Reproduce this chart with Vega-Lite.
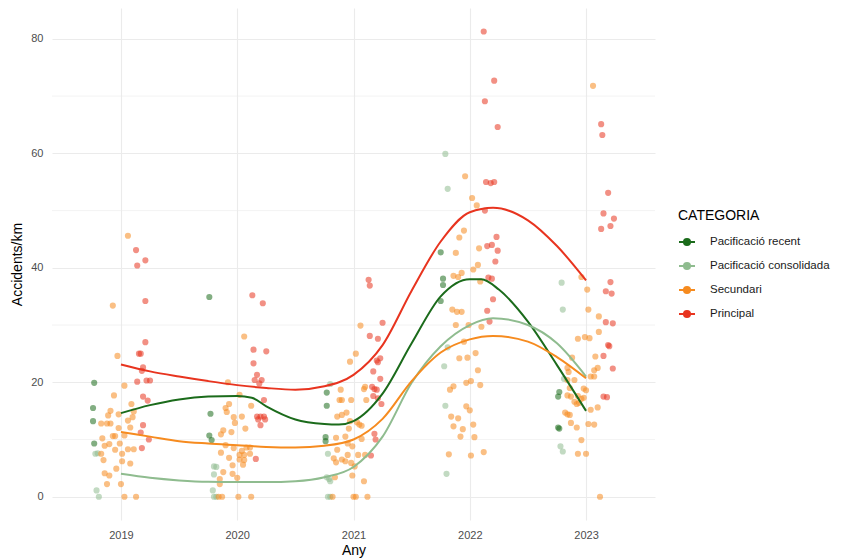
{
  "$schema": "https://vega.github.io/schema/vega-lite/v6.json",
  "width": 603,
  "height": 512,
  "autosize": {"type": "none"},
  "padding": {"left": 52, "top": 8, "right": 188, "bottom": 38},
  "background": "white",
  "config": {
    "view": {"stroke": null},
    "font": "Liberation Sans",
    "axis": {
      "domain": false,
      "ticks": false,
      "grid": true,
      "gridColor": "#ebebeb",
      "gridWidth": 1.1,
      "labelColor": "#4d4d4d",
      "labelFontSize": 11,
      "labelFont": "Liberation Sans",
      "titleColor": "#000000",
      "titleFontSize": 14,
      "titleFontWeight": "normal",
      "titleFont": "Liberation Sans"
    },
    "legend": {
      "orient": "none",
      "legendX": 626,
      "legendY": 201,
      "padding": 0,
      "titleFontSize": 14,
      "titleFontWeight": "normal",
      "titleColor": "#000000",
      "titleFont": "Liberation Sans",
      "titlePadding": 10,
      "labelFontSize": 11.5,
      "labelColor": "#1a1a1a",
      "labelFont": "Liberation Sans",
      "labelOffset": 14,
      "rowPadding": 7,
      "symbolType": "M-1,0L1,0M-0.38,0A0.38,0.38 0 1,1 0.38,0A0.38,0.38 0 1,1 -0.38,0Z",
      "symbolSize": 256,
      "symbolStrokeWidth": 2,
      "symbolOpacity": 1
    }
  },
  "datasets": {
    "minor": [{"v": 10}, {"v": 30}, {"v": 50}, {"v": 70}],
    "corbes": [
      {"Any": 2019, "valor": 14.6, "CATEGORIA": "Pacificació recent"},
      {"Any": 2019.25, "valor": 16.0, "CATEGORIA": "Pacificació recent"},
      {"Any": 2019.5, "valor": 17.0, "CATEGORIA": "Pacificació recent"},
      {"Any": 2019.75, "valor": 17.5, "CATEGORIA": "Pacificació recent"},
      {"Any": 2020, "valor": 17.6, "CATEGORIA": "Pacificació recent"},
      {"Any": 2020.125, "valor": 17.3, "CATEGORIA": "Pacificació recent"},
      {"Any": 2020.25, "valor": 15.8, "CATEGORIA": "Pacificació recent"},
      {"Any": 2020.5, "valor": 13.5, "CATEGORIA": "Pacificació recent"},
      {"Any": 2020.75, "valor": 12.7, "CATEGORIA": "Pacificació recent"},
      {"Any": 2020.875, "valor": 12.6, "CATEGORIA": "Pacificació recent"},
      {"Any": 2021, "valor": 13.2, "CATEGORIA": "Pacificació recent"},
      {"Any": 2021.25, "valor": 18.0, "CATEGORIA": "Pacificació recent"},
      {"Any": 2021.5, "valor": 26.8, "CATEGORIA": "Pacificació recent"},
      {"Any": 2021.75, "valor": 35.0, "CATEGORIA": "Pacificació recent"},
      {"Any": 2022, "valor": 38.0, "CATEGORIA": "Pacificació recent"},
      {"Any": 2022.1, "valor": 38.0, "CATEGORIA": "Pacificació recent"},
      {"Any": 2022.25, "valor": 36.2, "CATEGORIA": "Pacificació recent"},
      {"Any": 2022.5, "valor": 30.6, "CATEGORIA": "Pacificació recent"},
      {"Any": 2022.75, "valor": 23.0, "CATEGORIA": "Pacificació recent"},
      {"Any": 2023, "valor": 15.0, "CATEGORIA": "Pacificació recent"},

      {"Any": 2019, "valor": 4.0, "CATEGORIA": "Pacificació consolidada"},
      {"Any": 2019.25, "valor": 3.3, "CATEGORIA": "Pacificació consolidada"},
      {"Any": 2019.5, "valor": 2.85, "CATEGORIA": "Pacificació consolidada"},
      {"Any": 2019.75, "valor": 2.6, "CATEGORIA": "Pacificació consolidada"},
      {"Any": 2020, "valor": 2.55, "CATEGORIA": "Pacificació consolidada"},
      {"Any": 2020.25, "valor": 2.55, "CATEGORIA": "Pacificació consolidada"},
      {"Any": 2020.5, "valor": 2.7, "CATEGORIA": "Pacificació consolidada"},
      {"Any": 2020.75, "valor": 3.4, "CATEGORIA": "Pacificació consolidada"},
      {"Any": 2021, "valor": 5.2, "CATEGORIA": "Pacificació consolidada"},
      {"Any": 2021.25, "valor": 10.5, "CATEGORIA": "Pacificació consolidada"},
      {"Any": 2021.5, "valor": 19.9, "CATEGORIA": "Pacificació consolidada"},
      {"Any": 2021.75, "valor": 26.3, "CATEGORIA": "Pacificació consolidada"},
      {"Any": 2022, "valor": 30.0, "CATEGORIA": "Pacificació consolidada"},
      {"Any": 2022.2, "valor": 31.2, "CATEGORIA": "Pacificació consolidada"},
      {"Any": 2022.5, "valor": 30.0, "CATEGORIA": "Pacificació consolidada"},
      {"Any": 2022.75, "valor": 26.8, "CATEGORIA": "Pacificació consolidada"},
      {"Any": 2023, "valor": 21.0, "CATEGORIA": "Pacificació consolidada"},

      {"Any": 2019, "valor": 11.3, "CATEGORIA": "Secundari"},
      {"Any": 2019.25, "valor": 10.5, "CATEGORIA": "Secundari"},
      {"Any": 2019.5, "valor": 9.7, "CATEGORIA": "Secundari"},
      {"Any": 2019.75, "valor": 9.3, "CATEGORIA": "Secundari"},
      {"Any": 2020, "valor": 9.0, "CATEGORIA": "Secundari"},
      {"Any": 2020.25, "valor": 8.7, "CATEGORIA": "Secundari"},
      {"Any": 2020.5, "valor": 8.6, "CATEGORIA": "Secundari"},
      {"Any": 2020.75, "valor": 8.9, "CATEGORIA": "Secundari"},
      {"Any": 2021, "valor": 10.0, "CATEGORIA": "Secundari"},
      {"Any": 2021.25, "valor": 13.6, "CATEGORIA": "Secundari"},
      {"Any": 2021.5, "valor": 20.2, "CATEGORIA": "Secundari"},
      {"Any": 2021.75, "valor": 25.2, "CATEGORIA": "Secundari"},
      {"Any": 2022, "valor": 27.5, "CATEGORIA": "Secundari"},
      {"Any": 2022.2, "valor": 28.1, "CATEGORIA": "Secundari"},
      {"Any": 2022.5, "valor": 27.1, "CATEGORIA": "Secundari"},
      {"Any": 2022.75, "valor": 24.4, "CATEGORIA": "Secundari"},
      {"Any": 2023, "valor": 20.7, "CATEGORIA": "Secundari"},

      {"Any": 2019, "valor": 23.1, "CATEGORIA": "Principal"},
      {"Any": 2019.25, "valor": 21.9, "CATEGORIA": "Principal"},
      {"Any": 2019.5, "valor": 21.0, "CATEGORIA": "Principal"},
      {"Any": 2019.75, "valor": 20.2, "CATEGORIA": "Principal"},
      {"Any": 2020, "valor": 19.5, "CATEGORIA": "Principal"},
      {"Any": 2020.25, "valor": 19.0, "CATEGORIA": "Principal"},
      {"Any": 2020.5, "valor": 18.7, "CATEGORIA": "Principal"},
      {"Any": 2020.75, "valor": 19.3, "CATEGORIA": "Principal"},
      {"Any": 2021, "valor": 21.3, "CATEGORIA": "Principal"},
      {"Any": 2021.25, "valor": 26.5, "CATEGORIA": "Principal"},
      {"Any": 2021.5, "valor": 36.0, "CATEGORIA": "Principal"},
      {"Any": 2021.75, "valor": 44.6, "CATEGORIA": "Principal"},
      {"Any": 2022, "valor": 49.7, "CATEGORIA": "Principal"},
      {"Any": 2022.2, "valor": 50.5, "CATEGORIA": "Principal"},
      {"Any": 2022.5, "valor": 48.3, "CATEGORIA": "Principal"},
      {"Any": 2022.75, "valor": 43.8, "CATEGORIA": "Principal"},
      {"Any": 2023, "valor": 37.8, "CATEGORIA": "Principal"}
    ],
    "punts": [
      {"Any": 2018.77, "valor": 19.9, "CATEGORIA": "Pacificació recent"},
      {"Any": 2018.76, "valor": 15.5, "CATEGORIA": "Pacificació recent"},
      {"Any": 2018.76, "valor": 13.2, "CATEGORIA": "Pacificació recent"},
      {"Any": 2018.77, "valor": 9.3, "CATEGORIA": "Pacificació recent"},
      {"Any": 2018.78, "valor": 7.5, "CATEGORIA": "Pacificació consolidada"},
      {"Any": 2018.80, "valor": 7.6, "CATEGORIA": "Pacificació consolidada"},
      {"Any": 2018.79, "valor": 1.1, "CATEGORIA": "Pacificació consolidada"},
      {"Any": 2018.81, "valor": 0, "CATEGORIA": "Pacificació consolidada"},
      {"Any": 2019.06, "valor": 45.6, "CATEGORIA": "Secundari"},
      {"Any": 2018.93, "valor": 33.4, "CATEGORIA": "Secundari"},
      {"Any": 2018.97, "valor": 24.6, "CATEGORIA": "Secundari"},
      {"Any": 2019.03, "valor": 19.4, "CATEGORIA": "Secundari"},
      {"Any": 2018.94, "valor": 17.7, "CATEGORIA": "Secundari"},
      {"Any": 2019.09, "valor": 16.2, "CATEGORIA": "Secundari"},
      {"Any": 2018.91, "valor": 15.0, "CATEGORIA": "Secundari"},
      {"Any": 2018.89, "valor": 14.2, "CATEGORIA": "Secundari"},
      {"Any": 2018.98, "valor": 14.4, "CATEGORIA": "Secundari"},
      {"Any": 2019.11, "valor": 14.9, "CATEGORIA": "Secundari"},
      {"Any": 2019.10, "valor": 13.9, "CATEGORIA": "Secundari"},
      {"Any": 2018.83, "valor": 12.8, "CATEGORIA": "Secundari"},
      {"Any": 2018.88, "valor": 12.8, "CATEGORIA": "Secundari"},
      {"Any": 2018.91, "valor": 12.8, "CATEGORIA": "Secundari"},
      {"Any": 2019.06, "valor": 13.3, "CATEGORIA": "Secundari"},
      {"Any": 2018.98, "valor": 12.0, "CATEGORIA": "Secundari"},
      {"Any": 2019.08, "valor": 12.1, "CATEGORIA": "Secundari"},
      {"Any": 2018.84, "valor": 10.2, "CATEGORIA": "Secundari"},
      {"Any": 2018.93, "valor": 10.6, "CATEGORIA": "Secundari"},
      {"Any": 2018.95, "valor": 10.6, "CATEGORIA": "Secundari"},
      {"Any": 2019.03, "valor": 10.7, "CATEGORIA": "Secundari"},
      {"Any": 2018.90, "valor": 9.2, "CATEGORIA": "Secundari"},
      {"Any": 2018.86, "valor": 8.9, "CATEGORIA": "Secundari"},
      {"Any": 2018.99, "valor": 9.3, "CATEGORIA": "Secundari"},
      {"Any": 2019.06, "valor": 8.3, "CATEGORIA": "Secundari"},
      {"Any": 2019.11, "valor": 8.3, "CATEGORIA": "Secundari"},
      {"Any": 2018.95, "valor": 8.2, "CATEGORIA": "Secundari"},
      {"Any": 2019.01, "valor": 7.5, "CATEGORIA": "Secundari"},
      {"Any": 2018.83, "valor": 7.5, "CATEGORIA": "Secundari"},
      {"Any": 2018.85, "valor": 6.4, "CATEGORIA": "Secundari"},
      {"Any": 2019.08, "valor": 5.8, "CATEGORIA": "Secundari"},
      {"Any": 2019.01, "valor": 6.2, "CATEGORIA": "Secundari"},
      {"Any": 2018.96, "valor": 4.9, "CATEGORIA": "Secundari"},
      {"Any": 2018.86, "valor": 4.1, "CATEGORIA": "Secundari"},
      {"Any": 2018.90, "valor": 3.7, "CATEGORIA": "Secundari"},
      {"Any": 2018.88, "valor": 2.2, "CATEGORIA": "Secundari"},
      {"Any": 2019.00, "valor": 2.2, "CATEGORIA": "Secundari"},
      {"Any": 2019.03, "valor": 0, "CATEGORIA": "Secundari"},
      {"Any": 2019.13, "valor": 0, "CATEGORIA": "Secundari"},
      {"Any": 2019.13, "valor": 43.1, "CATEGORIA": "Principal"},
      {"Any": 2019.21, "valor": 41.3, "CATEGORIA": "Principal"},
      {"Any": 2019.14, "valor": 40.4, "CATEGORIA": "Principal"},
      {"Any": 2019.21, "valor": 34.2, "CATEGORIA": "Principal"},
      {"Any": 2019.21, "valor": 27.0, "CATEGORIA": "Principal"},
      {"Any": 2019.155, "valor": 25.0, "CATEGORIA": "Principal"},
      {"Any": 2019.17, "valor": 25.0, "CATEGORIA": "Principal"},
      {"Any": 2019.19, "valor": 22.6, "CATEGORIA": "Principal"},
      {"Any": 2019.18, "valor": 22.0, "CATEGORIA": "Principal"},
      {"Any": 2019.14, "valor": 20.1, "CATEGORIA": "Principal"},
      {"Any": 2019.22, "valor": 20.3, "CATEGORIA": "Principal"},
      {"Any": 2019.25, "valor": 20.3, "CATEGORIA": "Principal"},
      {"Any": 2019.19, "valor": 17.5, "CATEGORIA": "Principal"},
      {"Any": 2019.23, "valor": 16.8, "CATEGORIA": "Principal"},
      {"Any": 2019.19, "valor": 12.5, "CATEGORIA": "Principal"},
      {"Any": 2019.17, "valor": 11.2, "CATEGORIA": "Principal"},
      {"Any": 2019.24, "valor": 10.0, "CATEGORIA": "Principal"},
      {"Any": 2019.18, "valor": 8.5, "CATEGORIA": "Principal"},

      {"Any": 2019.76, "valor": 34.9, "CATEGORIA": "Pacificació recent"},
      {"Any": 2019.77, "valor": 14.5, "CATEGORIA": "Pacificació recent"},
      {"Any": 2019.76, "valor": 10.7, "CATEGORIA": "Pacificació recent"},
      {"Any": 2019.78, "valor": 9.9, "CATEGORIA": "Pacificació recent"},
      {"Any": 2019.80, "valor": 5.3, "CATEGORIA": "Pacificació consolidada"},
      {"Any": 2019.82, "valor": 5.2, "CATEGORIA": "Pacificació consolidada"},
      {"Any": 2019.80, "valor": 3.9, "CATEGORIA": "Pacificació consolidada"},
      {"Any": 2019.79, "valor": 1.1, "CATEGORIA": "Pacificació consolidada"},
      {"Any": 2019.80, "valor": 0, "CATEGORIA": "Pacificació consolidada"},
      {"Any": 2019.82, "valor": 0, "CATEGORIA": "Pacificació consolidada"},
      {"Any": 2020.06, "valor": 28.0, "CATEGORIA": "Secundari"},
      {"Any": 2019.92, "valor": 20.0, "CATEGORIA": "Secundari"},
      {"Any": 2020.02, "valor": 17.8, "CATEGORIA": "Secundari"},
      {"Any": 2019.93, "valor": 16.2, "CATEGORIA": "Secundari"},
      {"Any": 2019.90, "valor": 15.5, "CATEGORIA": "Secundari"},
      {"Any": 2020.12, "valor": 15.9, "CATEGORIA": "Secundari"},
      {"Any": 2019.91, "valor": 14.8, "CATEGORIA": "Secundari"},
      {"Any": 2019.97, "valor": 13.9, "CATEGORIA": "Secundari"},
      {"Any": 2020.04, "valor": 14.0, "CATEGORIA": "Secundari"},
      {"Any": 2019.98, "valor": 12.9, "CATEGORIA": "Secundari"},
      {"Any": 2019.88, "valor": 11.6, "CATEGORIA": "Secundari"},
      {"Any": 2019.95, "valor": 11.3, "CATEGORIA": "Secundari"},
      {"Any": 2019.86, "valor": 10.9, "CATEGORIA": "Secundari"},
      {"Any": 2020.07, "valor": 11.9, "CATEGORIA": "Secundari"},
      {"Any": 2019.90, "valor": 9.0, "CATEGORIA": "Secundari"},
      {"Any": 2019.86, "valor": 7.7, "CATEGORIA": "Secundari"},
      {"Any": 2019.97, "valor": 8.5, "CATEGORIA": "Secundari"},
      {"Any": 2020.04, "valor": 8.0, "CATEGORIA": "Secundari"},
      {"Any": 2020.08, "valor": 8.6, "CATEGORIA": "Secundari"},
      {"Any": 2020.11, "valor": 8.6, "CATEGORIA": "Secundari"},
      {"Any": 2020.02, "valor": 7.3, "CATEGORIA": "Secundari"},
      {"Any": 2020.06, "valor": 7.3, "CATEGORIA": "Secundari"},
      {"Any": 2020.11, "valor": 7.5, "CATEGORIA": "Secundari"},
      {"Any": 2019.93, "valor": 6.8, "CATEGORIA": "Secundari"},
      {"Any": 2020.02, "valor": 6.5, "CATEGORIA": "Secundari"},
      {"Any": 2020.06, "valor": 6.4, "CATEGORIA": "Secundari"},
      {"Any": 2019.96, "valor": 5.5, "CATEGORIA": "Secundari"},
      {"Any": 2020.05, "valor": 5.6, "CATEGORIA": "Secundari"},
      {"Any": 2019.88, "valor": 4.3, "CATEGORIA": "Secundari"},
      {"Any": 2019.96, "valor": 4.0, "CATEGORIA": "Secundari"},
      {"Any": 2019.85, "valor": 3.1, "CATEGORIA": "Secundari"},
      {"Any": 2020.00, "valor": 3.3, "CATEGORIA": "Secundari"},
      {"Any": 2019.85, "valor": 2.2, "CATEGORIA": "Secundari"},
      {"Any": 2019.87, "valor": 0, "CATEGORIA": "Secundari"},
      {"Any": 2020.01, "valor": 0, "CATEGORIA": "Secundari"},
      {"Any": 2020.12, "valor": 0, "CATEGORIA": "Secundari"},
      {"Any": 2019.84, "valor": 0, "CATEGORIA": "Secundari"},
      {"Any": 2020.13, "valor": 35.2, "CATEGORIA": "Principal"},
      {"Any": 2020.22, "valor": 33.8, "CATEGORIA": "Principal"},
      {"Any": 2020.14, "valor": 25.7, "CATEGORIA": "Principal"},
      {"Any": 2020.25, "valor": 25.4, "CATEGORIA": "Principal"},
      {"Any": 2020.14, "valor": 23.3, "CATEGORIA": "Principal"},
      {"Any": 2020.17, "valor": 21.3, "CATEGORIA": "Principal"},
      {"Any": 2020.15, "valor": 20.4, "CATEGORIA": "Principal"},
      {"Any": 2020.21, "valor": 20.4, "CATEGORIA": "Principal"},
      {"Any": 2020.19, "valor": 19.8, "CATEGORIA": "Principal"},
      {"Any": 2020.23, "valor": 16.9, "CATEGORIA": "Principal"},
      {"Any": 2020.17, "valor": 14.0, "CATEGORIA": "Principal"},
      {"Any": 2020.20, "valor": 14.0, "CATEGORIA": "Principal"},
      {"Any": 2020.23, "valor": 14.0, "CATEGORIA": "Principal"},
      {"Any": 2020.18, "valor": 13.5, "CATEGORIA": "Principal"},
      {"Any": 2020.24, "valor": 13.5, "CATEGORIA": "Principal"},
      {"Any": 2020.20, "valor": 12.5, "CATEGORIA": "Principal"},
      {"Any": 2020.16, "valor": 6.6, "CATEGORIA": "Principal"},

      {"Any": 2020.77, "valor": 18.2, "CATEGORIA": "Pacificació recent"},
      {"Any": 2020.77, "valor": 15.9, "CATEGORIA": "Pacificació recent"},
      {"Any": 2020.76, "valor": 10.4, "CATEGORIA": "Pacificació recent"},
      {"Any": 2020.76, "valor": 9.7, "CATEGORIA": "Pacificació recent"},
      {"Any": 2020.80, "valor": 19.7, "CATEGORIA": "Pacificació consolidada"},
      {"Any": 2020.78, "valor": 7.5, "CATEGORIA": "Pacificació consolidada"},
      {"Any": 2020.77, "valor": 3.4, "CATEGORIA": "Pacificació consolidada"},
      {"Any": 2020.79, "valor": 3.1, "CATEGORIA": "Pacificació consolidada"},
      {"Any": 2020.80, "valor": 2.7, "CATEGORIA": "Pacificació consolidada"},
      {"Any": 2020.78, "valor": 0, "CATEGORIA": "Pacificació consolidada"},
      {"Any": 2020.80, "valor": 0, "CATEGORIA": "Pacificació consolidada"},
      {"Any": 2021.06, "valor": 29.9, "CATEGORIA": "Secundari"},
      {"Any": 2021.02, "valor": 25.0, "CATEGORIA": "Secundari"},
      {"Any": 2020.97, "valor": 23.6, "CATEGORIA": "Secundari"},
      {"Any": 2021.09, "valor": 18.8, "CATEGORIA": "Secundari"},
      {"Any": 2021.10, "valor": 19.2, "CATEGORIA": "Secundari"},
      {"Any": 2020.89, "valor": 18.7, "CATEGORIA": "Secundari"},
      {"Any": 2020.88, "valor": 16.9, "CATEGORIA": "Secundari"},
      {"Any": 2020.90, "valor": 16.9, "CATEGORIA": "Secundari"},
      {"Any": 2020.98, "valor": 16.9, "CATEGORIA": "Secundari"},
      {"Any": 2021.11, "valor": 16.9, "CATEGORIA": "Secundari"},
      {"Any": 2020.86, "valor": 14.0, "CATEGORIA": "Secundari"},
      {"Any": 2020.90, "valor": 14.3, "CATEGORIA": "Secundari"},
      {"Any": 2020.94, "valor": 14.7, "CATEGORIA": "Secundari"},
      {"Any": 2020.97, "valor": 13.2, "CATEGORIA": "Secundari"},
      {"Any": 2021.03, "valor": 13.0, "CATEGORIA": "Secundari"},
      {"Any": 2021.05, "valor": 12.6, "CATEGORIA": "Secundari"},
      {"Any": 2020.96, "valor": 11.9, "CATEGORIA": "Secundari"},
      {"Any": 2021.07, "valor": 12.4, "CATEGORIA": "Secundari"},
      {"Any": 2020.85, "valor": 10.3, "CATEGORIA": "Secundari"},
      {"Any": 2020.93, "valor": 10.5, "CATEGORIA": "Secundari"},
      {"Any": 2021.07, "valor": 10.1, "CATEGORIA": "Secundari"},
      {"Any": 2020.95, "valor": 9.3, "CATEGORIA": "Secundari"},
      {"Any": 2020.86, "valor": 8.2, "CATEGORIA": "Secundari"},
      {"Any": 2020.99, "valor": 8.8, "CATEGORIA": "Secundari"},
      {"Any": 2020.83, "valor": 6.7, "CATEGORIA": "Secundari"},
      {"Any": 2020.85, "valor": 6.0, "CATEGORIA": "Secundari"},
      {"Any": 2020.90, "valor": 6.5, "CATEGORIA": "Secundari"},
      {"Any": 2020.93, "valor": 6.2, "CATEGORIA": "Secundari"},
      {"Any": 2020.95, "valor": 7.3, "CATEGORIA": "Secundari"},
      {"Any": 2020.98, "valor": 5.9, "CATEGORIA": "Secundari"},
      {"Any": 2021.01, "valor": 5.3, "CATEGORIA": "Secundari"},
      {"Any": 2021.04, "valor": 7.3, "CATEGORIA": "Secundari"},
      {"Any": 2021.10, "valor": 7.3, "CATEGORIA": "Secundari"},
      {"Any": 2020.84, "valor": 3.4, "CATEGORIA": "Secundari"},
      {"Any": 2020.99, "valor": 3.7, "CATEGORIA": "Secundari"},
      {"Any": 2021.09, "valor": 2.7, "CATEGORIA": "Secundari"},
      {"Any": 2020.82, "valor": 0, "CATEGORIA": "Secundari"},
      {"Any": 2021.00, "valor": 0, "CATEGORIA": "Secundari"},
      {"Any": 2021.02, "valor": 0, "CATEGORIA": "Secundari"},
      {"Any": 2021.12, "valor": 0, "CATEGORIA": "Secundari"},
      {"Any": 2021.13, "valor": 37.9, "CATEGORIA": "Principal"},
      {"Any": 2021.14, "valor": 36.9, "CATEGORIA": "Principal"},
      {"Any": 2021.25, "valor": 30.4, "CATEGORIA": "Principal"},
      {"Any": 2021.14, "valor": 28.1, "CATEGORIA": "Principal"},
      {"Any": 2021.21, "valor": 27.6, "CATEGORIA": "Principal"},
      {"Any": 2021.23, "valor": 24.2, "CATEGORIA": "Principal"},
      {"Any": 2021.20, "valor": 23.8, "CATEGORIA": "Principal"},
      {"Any": 2021.21, "valor": 23.5, "CATEGORIA": "Principal"},
      {"Any": 2021.17, "valor": 21.9, "CATEGORIA": "Principal"},
      {"Any": 2021.23, "valor": 20.6, "CATEGORIA": "Principal"},
      {"Any": 2021.16, "valor": 19.2, "CATEGORIA": "Principal"},
      {"Any": 2021.18, "valor": 18.8, "CATEGORIA": "Principal"},
      {"Any": 2021.20, "valor": 18.7, "CATEGORIA": "Principal"},
      {"Any": 2021.17, "valor": 17.6, "CATEGORIA": "Principal"},
      {"Any": 2021.21, "valor": 17.2, "CATEGORIA": "Principal"},
      {"Any": 2021.24, "valor": 16.2, "CATEGORIA": "Principal"},
      {"Any": 2021.18, "valor": 11.0, "CATEGORIA": "Principal"},
      {"Any": 2021.19, "valor": 10.0, "CATEGORIA": "Principal"},
      {"Any": 2021.15, "valor": 7.2, "CATEGORIA": "Principal"},

      {"Any": 2021.75, "valor": 42.7, "CATEGORIA": "Pacificació recent"},
      {"Any": 2021.77, "valor": 38.1, "CATEGORIA": "Pacificació recent"},
      {"Any": 2021.77, "valor": 37.0, "CATEGORIA": "Pacificació recent"},
      {"Any": 2021.75, "valor": 34.2, "CATEGORIA": "Pacificació recent"},
      {"Any": 2021.79, "valor": 59.9, "CATEGORIA": "Pacificació consolidada"},
      {"Any": 2021.81, "valor": 53.8, "CATEGORIA": "Pacificació consolidada"},
      {"Any": 2021.81, "valor": 26.1, "CATEGORIA": "Pacificació consolidada"},
      {"Any": 2021.78, "valor": 22.8, "CATEGORIA": "Pacificació consolidada"},
      {"Any": 2021.79, "valor": 15.9, "CATEGORIA": "Pacificació consolidada"},
      {"Any": 2021.80, "valor": 4.0, "CATEGORIA": "Pacificació consolidada"},
      {"Any": 2021.96, "valor": 56.0, "CATEGORIA": "Secundari"},
      {"Any": 2022.02, "valor": 52.2, "CATEGORIA": "Secundari"},
      {"Any": 2022.06, "valor": 50.9, "CATEGORIA": "Secundari"},
      {"Any": 2021.95, "valor": 46.5, "CATEGORIA": "Secundari"},
      {"Any": 2021.91, "valor": 45.3, "CATEGORIA": "Secundari"},
      {"Any": 2022.08, "valor": 43.4, "CATEGORIA": "Secundari"},
      {"Any": 2021.88, "valor": 42.6, "CATEGORIA": "Secundari"},
      {"Any": 2022.07, "valor": 40.5, "CATEGORIA": "Secundari"},
      {"Any": 2022.03, "valor": 39.7, "CATEGORIA": "Secundari"},
      {"Any": 2021.93, "valor": 39.1, "CATEGORIA": "Secundari"},
      {"Any": 2021.86, "valor": 38.6, "CATEGORIA": "Secundari"},
      {"Any": 2021.90, "valor": 38.4, "CATEGORIA": "Secundari"},
      {"Any": 2022.09, "valor": 37.6, "CATEGORIA": "Secundari"},
      {"Any": 2021.85, "valor": 32.7, "CATEGORIA": "Secundari"},
      {"Any": 2021.89, "valor": 32.3, "CATEGORIA": "Secundari"},
      {"Any": 2021.93, "valor": 32.3, "CATEGORIA": "Secundari"},
      {"Any": 2021.88, "valor": 30.0, "CATEGORIA": "Secundari"},
      {"Any": 2021.99, "valor": 30.0, "CATEGORIA": "Secundari"},
      {"Any": 2022.10, "valor": 29.7, "CATEGORIA": "Secundari"},
      {"Any": 2021.95, "valor": 27.1, "CATEGORIA": "Secundari"},
      {"Any": 2022.05, "valor": 25.1, "CATEGORIA": "Secundari"},
      {"Any": 2021.91, "valor": 24.2, "CATEGORIA": "Secundari"},
      {"Any": 2021.98, "valor": 24.3, "CATEGORIA": "Secundari"},
      {"Any": 2022.07, "valor": 22.1, "CATEGORIA": "Secundari"},
      {"Any": 2021.97, "valor": 19.9, "CATEGORIA": "Secundari"},
      {"Any": 2022.01, "valor": 20.2, "CATEGORIA": "Secundari"},
      {"Any": 2022.09, "valor": 19.5, "CATEGORIA": "Secundari"},
      {"Any": 2021.83, "valor": 18.7, "CATEGORIA": "Secundari"},
      {"Any": 2021.86, "valor": 19.3, "CATEGORIA": "Secundari"},
      {"Any": 2021.97, "valor": 15.8, "CATEGORIA": "Secundari"},
      {"Any": 2022.00, "valor": 15.1, "CATEGORIA": "Secundari"},
      {"Any": 2021.84, "valor": 14.0, "CATEGORIA": "Secundari"},
      {"Any": 2021.90, "valor": 13.7, "CATEGORIA": "Secundari"},
      {"Any": 2021.86, "valor": 12.3, "CATEGORIA": "Secundari"},
      {"Any": 2021.94, "valor": 11.8, "CATEGORIA": "Secundari"},
      {"Any": 2022.03, "valor": 12.6, "CATEGORIA": "Secundari"},
      {"Any": 2021.92, "valor": 10.5, "CATEGORIA": "Secundari"},
      {"Any": 2022.04, "valor": 10.4, "CATEGORIA": "Secundari"},
      {"Any": 2021.82, "valor": 7.4, "CATEGORIA": "Secundari"},
      {"Any": 2022.01, "valor": 7.2, "CATEGORIA": "Secundari"},
      {"Any": 2022.12, "valor": 7.8, "CATEGORIA": "Secundari"},
      {"Any": 2022.12, "valor": 81.3, "CATEGORIA": "Principal"},
      {"Any": 2022.21, "valor": 72.7, "CATEGORIA": "Principal"},
      {"Any": 2022.13, "valor": 69.1, "CATEGORIA": "Principal"},
      {"Any": 2022.24, "valor": 64.6, "CATEGORIA": "Principal"},
      {"Any": 2022.14, "valor": 55.0, "CATEGORIA": "Principal"},
      {"Any": 2022.18, "valor": 54.8, "CATEGORIA": "Principal"},
      {"Any": 2022.21, "valor": 55.0, "CATEGORIA": "Principal"},
      {"Any": 2022.13, "valor": 50.0, "CATEGORIA": "Principal"},
      {"Any": 2022.23, "valor": 45.4, "CATEGORIA": "Principal"},
      {"Any": 2022.15, "valor": 43.8, "CATEGORIA": "Principal"},
      {"Any": 2022.19, "valor": 44.0, "CATEGORIA": "Principal"},
      {"Any": 2022.24, "valor": 43.0, "CATEGORIA": "Principal"},
      {"Any": 2022.22, "valor": 41.1, "CATEGORIA": "Principal"},
      {"Any": 2022.16, "valor": 38.3, "CATEGORIA": "Principal"},
      {"Any": 2022.19, "valor": 38.1, "CATEGORIA": "Principal"},
      {"Any": 2022.20, "valor": 34.5, "CATEGORIA": "Principal"},
      {"Any": 2022.15, "valor": 32.5, "CATEGORIA": "Principal"},
      {"Any": 2022.17, "valor": 30.6, "CATEGORIA": "Principal"},

      {"Any": 2022.77, "valor": 18.3, "CATEGORIA": "Pacificació recent"},
      {"Any": 2022.76, "valor": 17.5, "CATEGORIA": "Pacificació recent"},
      {"Any": 2022.76, "valor": 12.1, "CATEGORIA": "Pacificació recent"},
      {"Any": 2022.77, "valor": 11.9, "CATEGORIA": "Pacificació recent"},
      {"Any": 2022.79, "valor": 37.4, "CATEGORIA": "Pacificació consolidada"},
      {"Any": 2022.80, "valor": 32.7, "CATEGORIA": "Pacificació consolidada"},
      {"Any": 2022.81, "valor": 20.6, "CATEGORIA": "Pacificació consolidada"},
      {"Any": 2022.78, "valor": 8.8, "CATEGORIA": "Pacificació consolidada"},
      {"Any": 2022.80, "valor": 7.9, "CATEGORIA": "Pacificació consolidada"},
      {"Any": 2023.06, "valor": 71.8, "CATEGORIA": "Secundari"},
      {"Any": 2022.96, "valor": 38.4, "CATEGORIA": "Secundari"},
      {"Any": 2023.01, "valor": 36.2, "CATEGORIA": "Secundari"},
      {"Any": 2023.02, "valor": 32.7, "CATEGORIA": "Secundari"},
      {"Any": 2023.11, "valor": 31.5, "CATEGORIA": "Secundari"},
      {"Any": 2023.11, "valor": 28.8, "CATEGORIA": "Secundari"},
      {"Any": 2022.93, "valor": 27.6, "CATEGORIA": "Secundari"},
      {"Any": 2022.99, "valor": 27.9, "CATEGORIA": "Secundari"},
      {"Any": 2023.03, "valor": 27.7, "CATEGORIA": "Secundari"},
      {"Any": 2022.88, "valor": 24.3, "CATEGORIA": "Secundari"},
      {"Any": 2023.08, "valor": 24.5, "CATEGORIA": "Secundari"},
      {"Any": 2023.07, "valor": 22.1, "CATEGORIA": "Secundari"},
      {"Any": 2023.10, "valor": 22.5, "CATEGORIA": "Secundari"},
      {"Any": 2022.84, "valor": 22.5, "CATEGORIA": "Secundari"},
      {"Any": 2022.85, "valor": 21.8, "CATEGORIA": "Secundari"},
      {"Any": 2023.04, "valor": 21.0, "CATEGORIA": "Secundari"},
      {"Any": 2023.07, "valor": 21.0, "CATEGORIA": "Secundari"},
      {"Any": 2022.84, "valor": 20.4, "CATEGORIA": "Secundari"},
      {"Any": 2022.90, "valor": 20.4, "CATEGORIA": "Secundari"},
      {"Any": 2022.86, "valor": 19.0, "CATEGORIA": "Secundari"},
      {"Any": 2022.98, "valor": 18.9, "CATEGORIA": "Secundari"},
      {"Any": 2023.00, "valor": 18.6, "CATEGORIA": "Secundari"},
      {"Any": 2022.87, "valor": 17.5, "CATEGORIA": "Secundari"},
      {"Any": 2022.84, "valor": 17.7, "CATEGORIA": "Secundari"},
      {"Any": 2022.93, "valor": 17.6, "CATEGORIA": "Secundari"},
      {"Any": 2022.96, "valor": 17.1, "CATEGORIA": "Secundari"},
      {"Any": 2022.98, "valor": 17.3, "CATEGORIA": "Secundari"},
      {"Any": 2022.90, "valor": 16.6, "CATEGORIA": "Secundari"},
      {"Any": 2022.92, "valor": 16.2, "CATEGORIA": "Secundari"},
      {"Any": 2022.94, "valor": 16.4, "CATEGORIA": "Secundari"},
      {"Any": 2023.04, "valor": 15.2, "CATEGORIA": "Secundari"},
      {"Any": 2023.10, "valor": 15.6, "CATEGORIA": "Secundari"},
      {"Any": 2022.82, "valor": 14.7, "CATEGORIA": "Secundari"},
      {"Any": 2022.86, "valor": 14.3, "CATEGORIA": "Secundari"},
      {"Any": 2022.84, "valor": 14.4, "CATEGORIA": "Secundari"},
      {"Any": 2022.87, "valor": 12.9, "CATEGORIA": "Secundari"},
      {"Any": 2022.92, "valor": 12.1, "CATEGORIA": "Secundari"},
      {"Any": 2023.02, "valor": 12.7, "CATEGORIA": "Secundari"},
      {"Any": 2023.07, "valor": 12.6, "CATEGORIA": "Secundari"},
      {"Any": 2022.96, "valor": 9.9, "CATEGORIA": "Secundari"},
      {"Any": 2022.93, "valor": 7.5, "CATEGORIA": "Secundari"},
      {"Any": 2023.00, "valor": 7.5, "CATEGORIA": "Secundari"},
      {"Any": 2023.12, "valor": 0, "CATEGORIA": "Secundari"},
      {"Any": 2023.13, "valor": 65.1, "CATEGORIA": "Principal"},
      {"Any": 2023.14, "valor": 63.2, "CATEGORIA": "Principal"},
      {"Any": 2023.19, "valor": 53.1, "CATEGORIA": "Principal"},
      {"Any": 2023.15, "valor": 49.5, "CATEGORIA": "Principal"},
      {"Any": 2023.24, "valor": 48.6, "CATEGORIA": "Principal"},
      {"Any": 2023.21, "valor": 47.3, "CATEGORIA": "Principal"},
      {"Any": 2023.13, "valor": 46.8, "CATEGORIA": "Principal"},
      {"Any": 2023.21, "valor": 37.5, "CATEGORIA": "Principal"},
      {"Any": 2023.17, "valor": 35.9, "CATEGORIA": "Principal"},
      {"Any": 2023.22, "valor": 35.5, "CATEGORIA": "Principal"},
      {"Any": 2023.17, "valor": 30.5, "CATEGORIA": "Principal"},
      {"Any": 2023.23, "valor": 30.3, "CATEGORIA": "Principal"},
      {"Any": 2023.19, "valor": 26.5, "CATEGORIA": "Principal"},
      {"Any": 2023.20, "valor": 26.3, "CATEGORIA": "Principal"},
      {"Any": 2023.15, "valor": 24.6, "CATEGORIA": "Principal"},
      {"Any": 2023.23, "valor": 22.4, "CATEGORIA": "Principal"},
      {"Any": 2023.15, "valor": 17.5, "CATEGORIA": "Principal"},
      {"Any": 2023.18, "valor": 17.4, "CATEGORIA": "Principal"}
    ]
  },
  "layer": [
    {
      "data": {"name": "minor"},
      "mark": {"type": "rule", "color": "#ebebeb", "strokeWidth": 0.6},
      "encoding": {
        "y": {
          "field": "v",
          "type": "quantitative",
          "scale": {"domain": [-4.07, 85.4], "nice": false, "zero": false},
          "axis": {"values": [0, 20, 40, 60, 80], "labelPadding": 9, "title": "Accidents/km", "titlePadding": 6}
        }
      }
    },
    {
      "data": {"name": "punts"},
      "mark": {"type": "circle", "size": 38, "opacity": 0.55},
      "encoding": {
        "x": {
          "field": "Any",
          "type": "quantitative",
          "scale": {"domain": [2018.407, 2023.593], "nice": false, "zero": false},
          "axis": {"values": [2019, 2020, 2021, 2022, 2023], "format": "d", "labelPadding": 9, "title": "Any", "titlePadding": 3}
        },
        "y": {
          "field": "valor",
          "type": "quantitative",
          "axis": {"values": [0, 20, 40, 60, 80], "labelPadding": 9, "title": "Accidents/km", "titlePadding": 6}
        },
        "color": {
          "field": "CATEGORIA",
          "type": "nominal",
          "scale": {
            "domain": ["Pacificació recent", "Pacificació consolidada", "Secundari", "Principal"],
            "range": ["#1b6b1b", "#8fbc8f", "#f68b1f", "#e8341f"]
          },
          "legend": {"title": "CATEGORIA"}
        }
      }
    },
    {
      "data": {"name": "corbes"},
      "mark": {"type": "line", "strokeWidth": 2, "interpolate": "monotone"},
      "encoding": {
        "x": {"field": "Any", "type": "quantitative", "axis": {"values": [2019, 2020, 2021, 2022, 2023], "format": "d", "labelPadding": 9, "title": "Any", "titlePadding": 3}},
        "y": {"field": "valor", "type": "quantitative", "axis": {"values": [0, 20, 40, 60, 80], "labelPadding": 9, "title": "Accidents/km", "titlePadding": 6}},
        "color": {
          "field": "CATEGORIA",
          "type": "nominal",
          "legend": {
            "title": "CATEGORIA",
            "encode": {
              "symbols": {
                "update": {
                  "fill": {"scale": "color", "field": "value"},
                  "stroke": {"scale": "color", "field": "value"},
                  "opacity": {"value": 1}
                }
              }
            }
          }
        }
      }
    }
  ]
}
